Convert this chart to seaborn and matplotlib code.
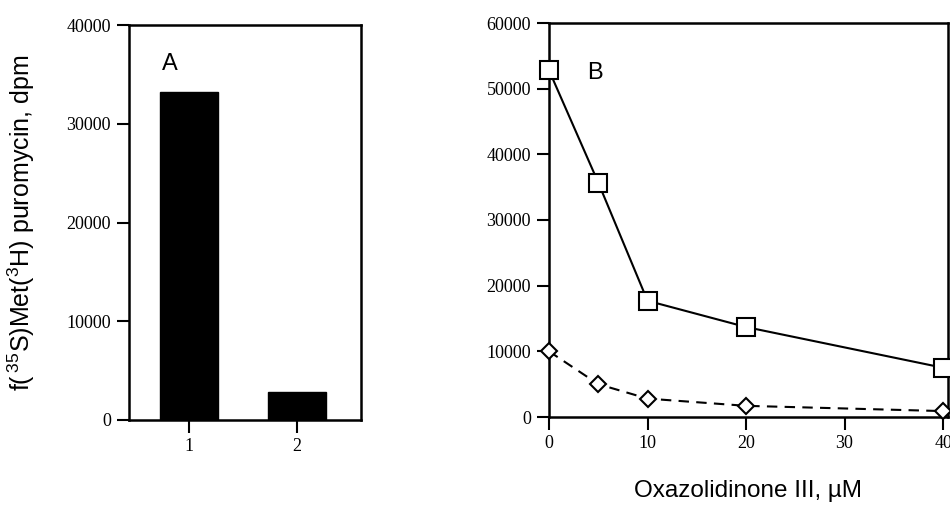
import matplotlib
matplotlib.use("Agg")
import matplotlib.pyplot as plt
import seaborn as sns
import pandas as pd

# ---- data ----
lanes = ["1", "2"]
lane_values = [33200, 2800]

conc = [0, 5, 10, 20, 40]
series_square = [52800, 35700, 17700, 13700, 7500]
series_diamond = [10000, 5000, 2800, 1700, 900]

a_yticks = [0, 10000, 20000, 30000, 40000]
b_yticks = [0, 10000, 20000, 30000, 40000, 50000, 60000]
b_xticks = [0, 10, 20, 30, 40]

sns.set_style("ticks")
plt.rcParams["font.family"] = ["Liberation Sans", "DejaVu Sans"]
plt.rcParams["mathtext.fontset"] = "custom"
plt.rcParams["mathtext.rm"] = "Liberation Sans"
plt.rcParams["mathtext.it"] = "Liberation Sans:italic"
plt.rcParams["mathtext.default"] = "regular"
plt.rcParams["text.color"] = "black"
plt.rcParams["axes.labelcolor"] = "black"

fig = plt.figure(figsize=(9.5, 5.24), dpi=100)
W, H = 950, 524

def add_ax(l, t, r, b):
    return fig.add_axes([l / W, 1 - b / H, (r - l) / W, (b - t) / H])

axA = add_ax(129, 25, 361, 420)
axB = add_ax(549, 23, 948, 417)

serif = ["Liberation Serif", "DejaVu Serif"]

# ---- panel A ----
dfA = pd.DataFrame({"lane": lanes, "value": lane_values})
sns.barplot(data=dfA, x="lane", y="value", color="black", width=0.54,
            saturation=1, ax=axA, edgecolor="black")
axA.set_xlim(-0.556, 1.593)
axA.set_ylim(0, 40000)
axA.set_yticks(a_yticks)
axA.set_yticklabels([str(v) for v in a_yticks], family=serif, fontsize=13)
axA.set_xticklabels(lanes, family=serif, fontsize=13)
axA.set_xlabel("")
axA.set_ylabel(r"f($\,^{35}$S)Met($^{3}$H) puromycin, dpm", fontsize=18,
               color="black")
axA.yaxis.set_label_coords(-0.397, 0.5)
axA.text(0.14, 0.9, "A", transform=axA.transAxes, fontsize=17,
         ha="left", va="center", color="black")

# ---- panel B ----
dfB = pd.DataFrame({"conc": conc, "sq": series_square, "di": series_diamond})
sns.lineplot(data=dfB, x="conc", y="sq", ax=axB, color="black", lw=1.5,
             marker="s", markersize=13, markerfacecolor="white",
             markeredgecolor="black", markeredgewidth=1.5, clip_on=False,
             zorder=5)
sns.lineplot(data=dfB, x="conc", y="di", ax=axB, color="black", lw=1.5,
             linestyle=(0, (5, 3.5)), marker="D", markersize=8,
             markerfacecolor="white", markeredgecolor="black",
             markeredgewidth=1.5, clip_on=False, zorder=5)
axB.set_xlim(0, 40.5)
axB.set_ylim(0, 60000)
axB.set_yticks(b_yticks)
axB.set_yticklabels([str(v) for v in b_yticks], family=serif, fontsize=13)
axB.set_xticks(b_xticks)
axB.set_xticklabels([str(v) for v in b_xticks], family=serif, fontsize=13)
axB.set_ylabel("")
axB.set_xlabel("Oxazolidinone III, µM", fontsize=17.5, labelpad=20,
               color="black")
axB.text(0.095, 0.873, "B", transform=axB.transAxes, fontsize=17,
         ha="left", va="center", color="black")

for ax in (axA, axB):
    for s in ax.spines.values():
        s.set_visible(True)
        s.set_linewidth(1.8)
        s.set_color("black")
    ax.tick_params(direction="out", length=9, width=1.5, color="black",
                   labelcolor="black", pad=4)
    ax.grid(False)

fig.savefig("out.png", dpi=100, facecolor="white")
